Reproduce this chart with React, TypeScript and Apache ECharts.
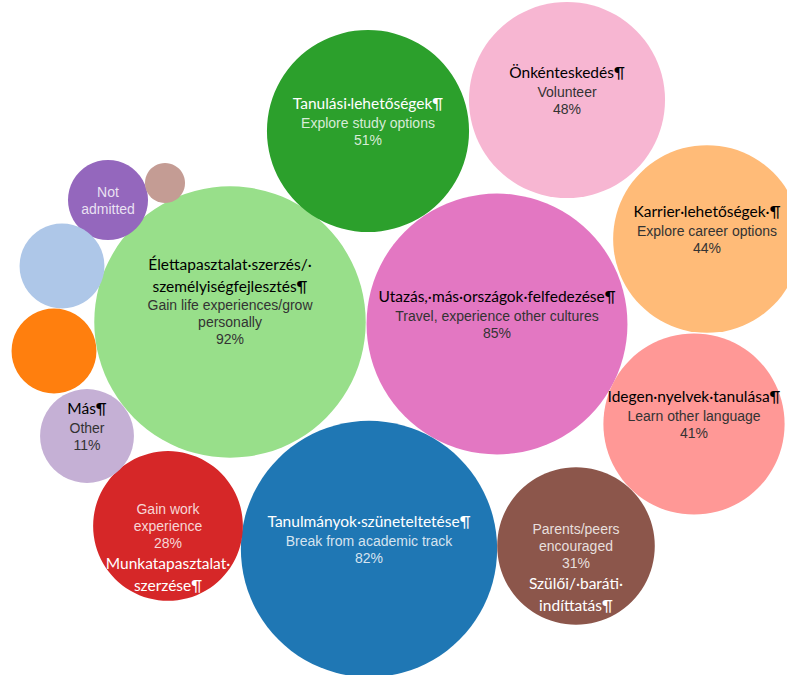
import React, { useEffect, useRef } from "react";
import * as echarts from "echarts";

// English category labels (line breaks as wrapped in the picture)
const categories = [
  "Gain life experiences/grow\npersonally",
  "Travel, experience other cultures",
  "Break from academic track",
  "Explore study options",
  "Volunteer",
  "Explore career options",
  "Learn other language",
  "Parents/peers\nencouraged",
  "Gain work\nexperience",
  "Other",
  "Not\nadmitted",
  "",
  "",
  "",
];

// Hungarian labels
const huLabels = [
  "Élettapasztalat·szerzés/·\nszemélyiségfejlesztés¶",
  "Utazás,·más·országok·felfedezése¶",
  "Tanulmányok·szüneteltetése¶",
  "Tanulási·lehetőségek¶",
  "Önkénteskedés¶",
  "Karrier·lehetőségek·¶",
  "Idegen·nyelvek·tanulása¶",
  "Szülői/·baráti·\nindíttatás¶",
  "Munkatapasztalat·\nszerzése¶",
  "Más¶",
  "",
  "",
  "",
  "",
];

// Percent values (bubble area ∝ value)
const values = [92, 85, 82, 51, 48, 44, 41, 31, 28, 11, 8, 9, 9, 2];
const showValue = [true, true, true, true, true, true, true, true, true, true, false, false, false, false];

// Packed-layout centres (layout space 787 x 675, y down)
const packX = [230, 497, 369, 368, 567, 707, 694, 576, 168, 87, 108, 62, 54, 165];
const packY = [322, 324, 549, 131, 100, 239, 424, 546, 526, 436, 200, 266, 351, 183];

// Layout / style
const huBelow = [false, false, false, false, false, false, false, true, true, false, false, false, false, false];
const palette = [
  "#98df8a", "#e377c2", "#1f77b4", "#2ca02c", "#f7b6d2", "#ffbb78", "#ff9896",
  "#8c564b", "#d62728", "#c5b0d5", "#9467bd", "#aec7e8", "#ff7f0e", "#c49c94",
];
const lightText = [false, false, true, true, false, false, false, true, true, false, true, false, false, false];

const SIZE_K = 28.3;
const HU_LH = 22;
const EN_LH = 17;

export default function App() {
  const ref = useRef<HTMLDivElement>(null);
  useEffect(() => {
    const chart = echarts.init(ref.current!, null, { renderer: "svg" });
    const data = values.map((v, i) => {
      const huCount = huLabels[i] ? huLabels[i].split("\n").length : 0;
      return {
        name: categories[i],
        value: [packX[i], packY[i], v],
        itemStyle: { color: palette[i], opacity: 1 },
        label: { offset: [0, (huBelow[i] ? 1 : -1) * (HU_LH / 2) * huCount] },
      };
    });
    const huFont = "Lato, 'Open Sans', sans-serif";
    const enFont = "'Liberation Sans', Arial, sans-serif";
    chart.setOption({
      animation: false,
      backgroundColor: "#ffffff",
      grid: { left: 0, right: 0, top: 0, bottom: 0 },
      xAxis: { type: "value", min: 0, max: 787, show: false },
      yAxis: { type: "value", min: 0, max: 675, inverse: true, show: false },
      series: [
        {
          type: "scatter",
          clip: false,
          data,
          symbol: "circle",
          symbolSize: (val: number[]) => SIZE_K * Math.sqrt(val[2]),
          itemStyle: { opacity: 1 },
          emphasis: { disabled: true },
          label: {
            show: true,
            position: "inside",
            formatter: (p: any) => {
              const i = p.dataIndex;
              const t = lightText[i] ? "L" : "D";
              const en = categories[i] ? categories[i].split("\n").map((s) => `{en${t}|${s}}`) : [];
              if (showValue[i]) en.push(`{en${t}|${values[i]}%}`);
              const hu = huLabels[i] ? huLabels[i].split("\n").map((s) => `{hu${t}|${s}}`) : [];
              return (huBelow[i] ? [...en, ...hu] : [...hu, ...en]).join("\n");
            },
            rich: {
              huD: { fontFamily: huFont, fontSize: 15.5, lineHeight: HU_LH, color: "#000000" },
              enD: { fontFamily: enFont, fontSize: 14, lineHeight: EN_LH, color: "#333333" },
              huL: { fontFamily: huFont, fontSize: 15.5, lineHeight: HU_LH, color: "#ffffff" },
              enL: { fontFamily: enFont, fontSize: 14, lineHeight: EN_LH, color: "rgba(255,255,255,0.82)" },
            },
          },
        },
      ],
    });
    return () => chart.dispose();
  }, []);
  return (
    <div
      ref={ref}
      style={{ position: "fixed", left: 0, top: 0, width: 787, height: 675 }}
    />
  );
}
